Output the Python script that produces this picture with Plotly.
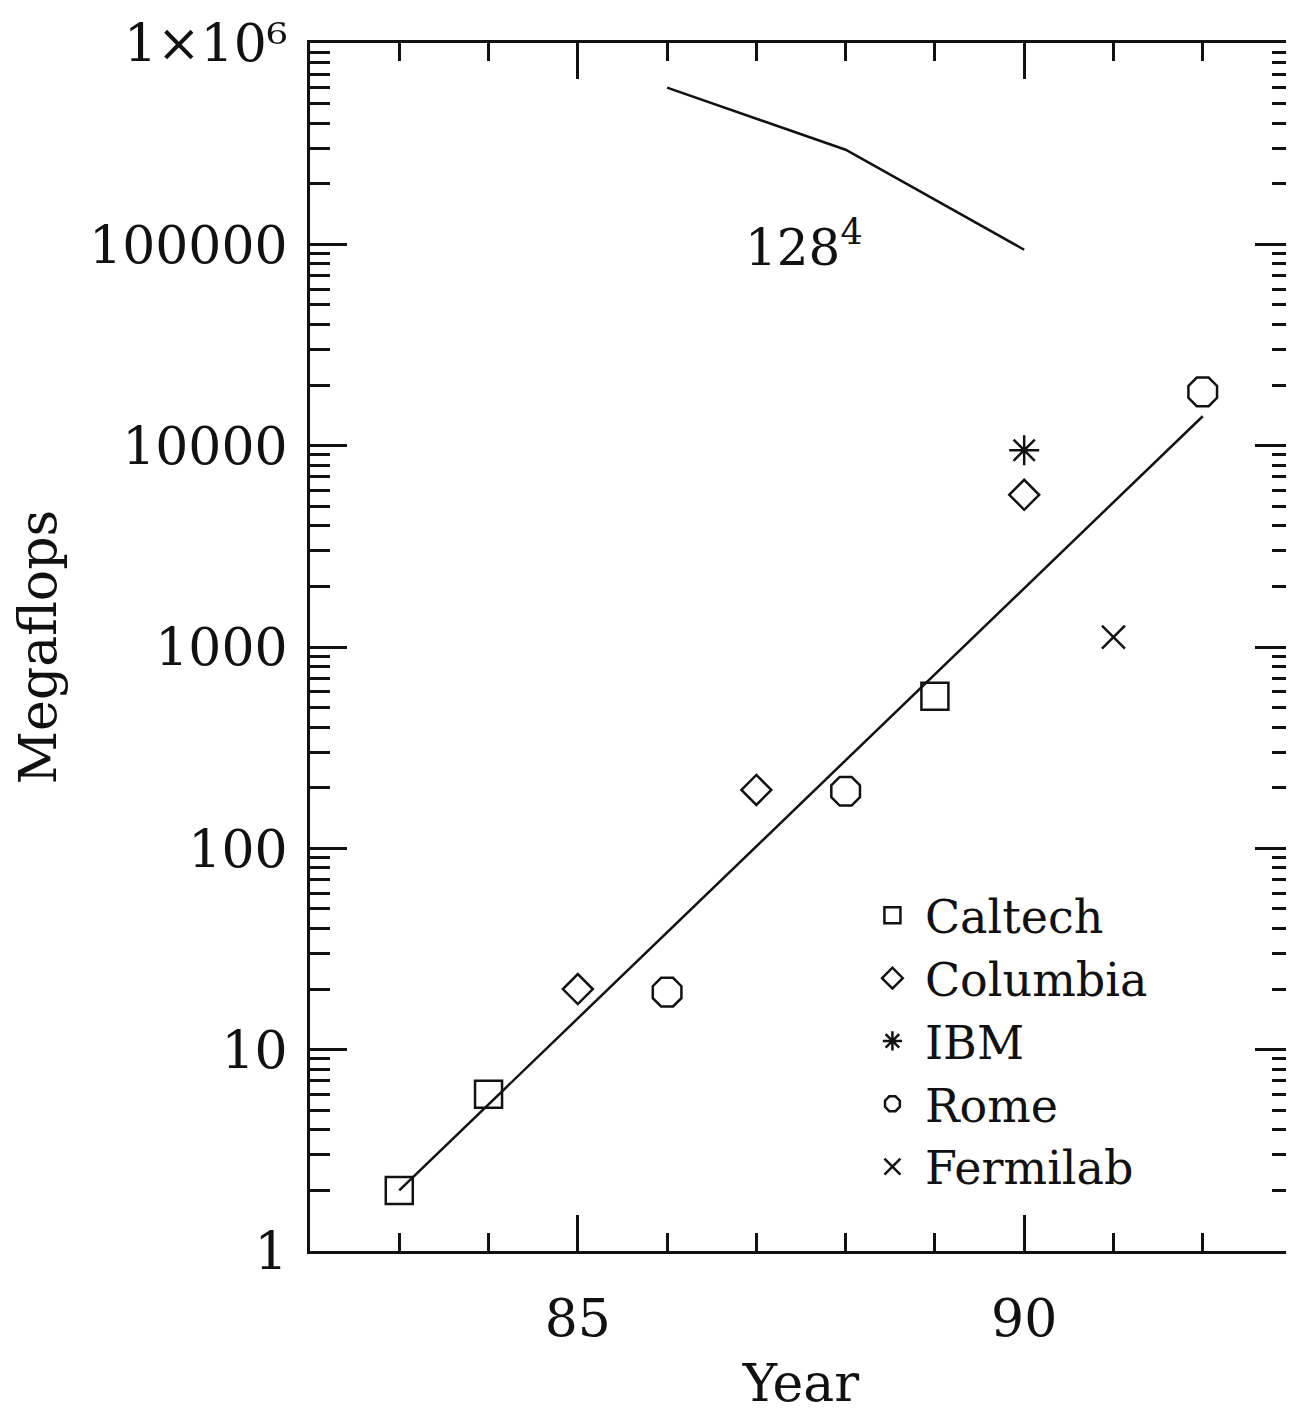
import plotly.graph_objects as go

# ---- data ----
caltech_year = [83, 84, 89]
caltech_mflops = [2.0, 6.0, 570]

columbia_year = [85, 87, 90]
columbia_mflops = [20, 195, 5700]

ibm_year = [90]
ibm_mflops = [9500]

rome_year = [86, 88, 92]
rome_mflops = [19.3, 192, 18500]

fermilab_year = [91]
fermilab_mflops = [1120]

fit_year = [83, 92]
fit_mflops = [2.0, 14000]

req_year = [86, 88, 90]
req_mflops = [600000, 295000, 94000]

y_tickvals = [1, 10, 100, 1000, 10000, 100000, 1000000]
y_ticktext = ["1", "10", "100", "1000", "10000", "100000", "1\u00d710\u2076"]
x_tickvals = [85, 90]
x_ticktext = ["85", "90"]
x_minor = [83, 84, 86, 87, 88, 89, 91, 92]
y_minor = [k * 10 ** d for d in range(6) for k in range(2, 10)]

FONT = "DejaVu Serif"
BLACK = "#111111"

fig = go.Figure()

fig.add_trace(go.Scatter(x=fit_year, y=fit_mflops, mode="lines",
                         line=dict(color=BLACK, width=2.5), showlegend=False, hoverinfo="skip"))
fig.add_trace(go.Scatter(x=req_year, y=req_mflops, mode="lines",
                         line=dict(color=BLACK, width=2.5), showlegend=False, hoverinfo="skip"))

mk_line = dict(color=BLACK, width=2.5)
fig.add_trace(go.Scatter(x=caltech_year, y=caltech_mflops, mode="markers", name="Caltech",
                         marker=dict(symbol="square-open", size=27, color=BLACK, line=mk_line)))
fig.add_trace(go.Scatter(x=columbia_year, y=columbia_mflops, mode="markers", name="Columbia",
                         marker=dict(symbol="diamond-open", size=23, color=BLACK, line=mk_line)))
fig.add_trace(go.Scatter(x=ibm_year, y=ibm_mflops, mode="markers", name="IBM",
                         marker=dict(symbol="asterisk-open", size=25, color=BLACK, line=mk_line)))
fig.add_trace(go.Scatter(x=rome_year, y=rome_mflops, mode="markers", name="Rome",
                         marker=dict(symbol="octagon-open", size=31, color=BLACK, line=mk_line)))
fig.add_trace(go.Scatter(x=fermilab_year, y=fermilab_mflops, mode="markers", name="Fermilab",
                         marker=dict(symbol="x-thin-open", size=23, color=BLACK, line=mk_line)))

fig.add_annotation(x=86.85, y=5.0, xref="x", yref="y", text="128<sup>4</sup>",
                   showarrow=False, xanchor="left", yanchor="middle",
                   font=dict(family=FONT, size=50, color=BLACK))

fig.update_layout(
    width=1294, height=1412,
    margin=dict(l=302, r=10, t=35, b=169, autoexpand=False),
    paper_bgcolor="white", plot_bgcolor="white",
    font=dict(family=FONT, color=BLACK),
    showlegend=True,
    legend=dict(x=0.56, y=0.308, xanchor="left", yanchor="top",
                font=dict(family=FONT, size=46, color=BLACK), itemwidth=55,
                bgcolor="rgba(0,0,0,0)", borderwidth=0, tracegroupgap=0),
    xaxis=dict(range=[82, 93], tickmode="array", tickvals=x_tickvals, ticktext=x_ticktext,
               ticks="inside", ticklen=36, tickwidth=2.5, tickcolor=BLACK,
               showline=True, linewidth=3, linecolor=BLACK, mirror="ticks",
               showgrid=False, zeroline=False, automargin=False,
               tickfont=dict(family=FONT, size=52, color=BLACK), ticklabelstandoff=20,
               ticklabeloverflow="allow",
               minor=dict(tickmode="array", tickvals=x_minor, ticks="inside", ticklen=18,
                          tickwidth=2.5, tickcolor=BLACK, showgrid=False),
               title=dict(text="Year", font=dict(family=FONT, size=52, color=BLACK), standoff=18)),
    yaxis=dict(type="log", range=[0, 6], tickmode="array", tickvals=y_tickvals, ticktext=y_ticktext,
               ticks="inside", ticklen=37, tickwidth=2.5, tickcolor=BLACK,
               showline=True, linewidth=3, linecolor=BLACK, mirror="ticks",
               showgrid=False, zeroline=False, automargin=False,
               tickfont=dict(family=FONT, size=52, color=BLACK), ticklabelstandoff=9,
               ticklabeloverflow="allow",
               minor=dict(tickmode="array", tickvals=y_minor, ticks="inside", ticklen=20,
                          tickwidth=2.5, tickcolor=BLACK, showgrid=False),
               title=dict(text="Megaflops", font=dict(family=FONT, size=52, color=BLACK), standoff=30)),
)

fig.write_html("out.html")
